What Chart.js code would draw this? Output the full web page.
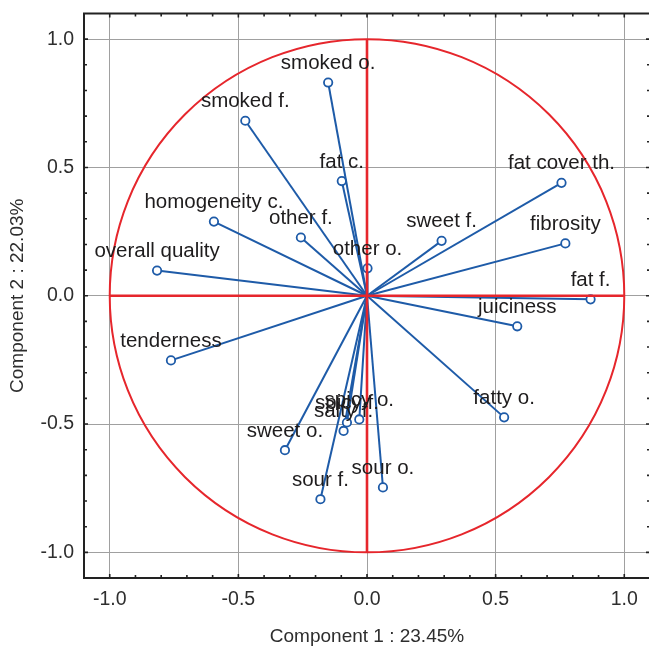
<!DOCTYPE html>
<html>
<head>
<meta charset="utf-8">
<script src="https://cdn.jsdelivr.net/npm/chart.js@4/dist/chart.umd.min.js"></script>
<style>
  html, body { margin: 0; padding: 0; overflow: hidden; background: #fff; }
  canvas { display: block; }
</style>
</head>
<body>
<canvas id="c" width="662" height="648"></canvas>
<script>
// Loadings of each sensory attribute on the first two principal components
const variables = [
  'smoked o.', 'smoked f.', 'fat c.', 'homogeneity c.', 'other f.', 'overall quality',
  'other o.', 'sweet f.', 'fat cover th.', 'fibrosity', 'fat f.', 'juiciness',
  'fatty o.', 'tenderness', 'sweet o.', 'sour f.', 'sour o.', 'spicy f.', 'spicy o.', 'salty f.'
];
const comp1 = [
  -0.151, -0.473, -0.098, -0.595, -0.257, -0.816,
   0.002,  0.290,  0.756,  0.771,  0.869,  0.584,
   0.533, -0.762, -0.319, -0.181,  0.062, -0.078, -0.030, -0.091
];
const comp2 = [
   0.831,  0.682,  0.447,  0.289,  0.227,  0.098,
   0.107,  0.214,  0.440,  0.204, -0.014, -0.119,
  -0.474, -0.252, -0.602, -0.793, -0.747, -0.494, -0.482, -0.527
];
const tickValues = [-1.0, -0.5, 0.0, 0.5, 1.0];
const xTitle = 'Component 1 : 23.45%';
const yTitle = 'Component 2 : 22.03%';

const FONT = '"Liberation Sans", Arial, Helvetica, sans-serif';
const BLUE = '#1e5ba8';
const RED = '#e6262c';
const INK = '#1e1c1d';

const datasets = variables.map((name, i) => ({
  label: name,
  data: [{ x: 0, y: 0 }, { x: comp1[i], y: comp2[i] }],
  showLine: true,
  borderColor: BLUE,
  borderWidth: 2,
  pointRadius: [0, 4.2],
  pointBorderWidth: 1.8,
  pointBorderColor: BLUE,
  pointBackgroundColor: '#ffffff'
}));

// Unit circle, zero axes, attribute names, and the framed inward ticks
const decorations = {
  id: 'decorations',
  afterDatasetsDraw(chart) {
    const { ctx, scales: { x, y } } = chart;
    const x0 = x.getPixelForValue(0), y0 = y.getPixelForValue(0);
    const rx = x.getPixelForValue(1) - x0, ry = y0 - y.getPixelForValue(1);
    ctx.save();
    ctx.strokeStyle = RED;
    ctx.lineWidth = 2;
    ctx.beginPath();
    ctx.ellipse(x0, y0, rx, ry, 0, 0, Math.PI * 2);
    ctx.stroke();
    ctx.lineWidth = 2.6;
    ctx.beginPath();
    ctx.moveTo(x.getPixelForValue(-1), y0);
    ctx.lineTo(x.getPixelForValue(1), y0);
    ctx.moveTo(x0, y.getPixelForValue(1));
    ctx.lineTo(x0, y.getPixelForValue(-1));
    ctx.stroke();

    ctx.fillStyle = INK;
    ctx.font = '20.5px ' + FONT;
    ctx.textAlign = 'center';
    ctx.textBaseline = 'alphabetic';
    variables.forEach((name, i) => {
      const px = x.getPixelForValue(comp1[i]);
      const py = y.getPixelForValue(comp2[i]);
      ctx.fillText(name, px, py - 13.5);
    });
    ctx.restore();
  },
  afterDraw(chart) {
    const { ctx, chartArea: a, scales: { x, y } } = chart;
    ctx.save();
    ctx.strokeStyle = '#222';
    ctx.lineWidth = 2;
    ctx.strokeRect(a.left, a.top, a.right - a.left, a.bottom - a.top);
    ctx.lineWidth = 1.6;
    ctx.beginPath();
    for (let k = -10; k <= 10; k++) {
      const len = k % 5 === 0 ? 4 : 3;
      const px = x.getPixelForValue(k / 10);
      const py = y.getPixelForValue(k / 10);
      ctx.moveTo(px, a.bottom); ctx.lineTo(px, a.bottom - len);
      ctx.moveTo(px, a.top); ctx.lineTo(px, a.top + len);
      ctx.moveTo(a.left, py); ctx.lineTo(a.left + len, py);
      ctx.moveTo(a.right, py); ctx.lineTo(a.right - len, py);
    }
    ctx.stroke();
    ctx.restore();
  }
};

const axisBase = (title) => ({
  type: 'linear',
  min: -1.1,
  max: 1.1,
  afterBuildTicks: s => { s.ticks = tickValues.map(v => ({ value: v })); },
  grid: { color: '#a0a0a0', lineWidth: 1, drawTicks: false },
  border: { display: false },
  ticks: {
    autoSkip: false,
    maxRotation: 0,
    color: '#2e2e2e',
    font: { family: FONT, size: 19.5 },
    callback: v => Number(v).toFixed(1)
  },
  title: { display: true, text: title, color: '#2e2e2e', font: { family: FONT, size: 19 } }
});

const xAxis = axisBase(xTitle);
xAxis.afterFit = s => { s.height = 70; s.paddingLeft = 0; s.paddingRight = 0; };
xAxis.ticks.padding = 10;
xAxis.title.padding = 0;

const yAxis = axisBase(yTitle);
yAxis.afterFit = s => { s.width = 84; s.paddingTop = 0; s.paddingBottom = 0; };
yAxis.ticks.padding = 10;
yAxis.title.padding = { top: 6, bottom: 0 };

new Chart(document.getElementById('c'), {
  type: 'scatter',
  data: { datasets },
  options: {
    responsive: false,
    animation: false,
    layout: { padding: { top: 13.5, right: 12, bottom: 0, left: 0 } },
    plugins: { legend: { display: false }, tooltip: { enabled: false } },
    scales: { x: xAxis, y: yAxis }
  },
  plugins: [decorations]
});
</script>
</body>
</html>
